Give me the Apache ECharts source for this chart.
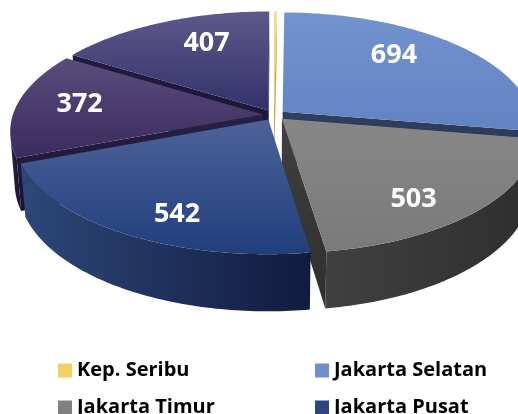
<!DOCTYPE html>
<html>
<head>
<meta charset="utf-8">
<script src="https://cdn.jsdelivr.net/npm/echarts@6/dist/echarts.min.js"></script>
<style>
  html, body { margin: 0; padding: 0; background: #fff; }
  #chart { width: 518px; height: 414px; }
</style>
</head>
<body>
<div id="chart"></div>
<script>
// District totals, drawn clockwise from 12 o'clock
const regions = ['Kep. Seribu', 'Jakarta Selatan', 'Jakarta Timur', 'Jakarta Pusat', 'Jakarta Barat', 'Jakarta Utara'];
const values = [5, 694, 503, 542, 372, 407];

// Colours: legend swatch, top face gradient, side wall gradient
const swatchColors = ['#f2d064', '#6e8fcb', '#808080', '#2e4480', '#463a6a', '#37356e'];
const topColors = [
  ['#f8de80', '#e9c44c'],
  ['#7393cf', '#6282c2'],
  ['#878787', '#7a7a7a'],
  ['#4d6299', '#213e7b'],
  ['#594d7c', '#3a2c5e'],
  ['#5e5989', '#33316b']
];
const sideColors = [
  ['#d8b440', '#b89530'],
  ['#2f3f5e', '#26334f'],
  ['#404040', '#2e2e2e'],
  ['#2d4778', '#101b3f'],
  ['#2a1f45', '#1a1230'],
  ['#221c42', '#17122f']
];

// 3D view of the disc
const CX = 274, CY = 115;          // screen position of the disc centre
const R = 250;                     // screen radius at the centre depth
const DIST = 6.28;                 // camera distance (disc radius = 1)
const ELEV = 27.2 * Math.PI / 180; // camera elevation
const THICK = 0.234;               // disc thickness
const EXPLODE = 0.045;             // outward offset of every slice
const LABEL_SQUASH = 1.3;          // label direction leans toward front/back
const LABEL_R = 0.8;               // radial position of value labels

const SN = Math.sin(ELEV), CS = Math.cos(ELEV), FOCAL = R * DIST;
const cam = [0, -DIST * CS, DIST * SN];

function depth(p) { return DIST + p[1] * CS - p[2] * SN; }
function proj(p) {
  const d = depth(p);
  return [CX + FOCAL * p[0] / d, CY - FOCAL * (p[1] * SN + p[2] * CS) / d];
}
function facing(n, p) {
  return n[0] * (cam[0] - p[0]) + n[1] * (cam[1] - p[1]) + n[2] * (cam[2] - p[2]) > 0;
}
function centroid(pts) {
  const c = [0, 0, 0];
  pts.forEach(p => { c[0] += p[0]; c[1] += p[1]; c[2] += p[2]; });
  return c.map(v => v / pts.length);
}
function grad(cols, horizontal) {
  return {
    type: 'linear', x: 0, y: 0, x2: horizontal ? 1 : 0, y2: horizontal ? 0 : 1,
    colorStops: [{ offset: 0, color: cols[0] }, { offset: 1, color: cols[1] }]
  };
}

const total = values.reduce((a, b) => a + b, 0);
const starts = [];
values.reduce((acc, v) => { starts.push(acc / total * 2 * Math.PI); return acc + v; }, 0);

function sliceRenderer(i) {
  return function (params, api) {
    const v = api.value(0);
    const a0 = starts[i];
    const a1 = a0 + v / total * 2 * Math.PI;
    const am = (a0 + a1) / 2;
    const ox = EXPLODE * Math.sin(am), oy = EXPLODE * Math.cos(am);
    const rim = (a, z) => [ox + Math.sin(a), oy + Math.cos(a), z];
    const hub = z => [ox, oy, z];
    const steps = Math.max(2, Math.ceil((a1 - a0) / (Math.PI / 180)));
    const arc = [];
    for (let k = 0; k <= steps; k++) arc.push(a0 + (a1 - a0) * k / steps);

    const children = [];
    const addSide = (pts3, cols, horizontal) => {
      children.push({
        type: 'polygon',
        z2: Math.round(1000 - depth(centroid(pts3)) * 100),
        shape: { points: pts3.map(proj) },
        style: { fill: grad(cols, horizontal), stroke: null }
      });
    };

    // radial cut faces
    const startFace = [hub(0), rim(a0, 0), rim(a0, -THICK), hub(-THICK)];
    if (facing([-Math.cos(a0), Math.sin(a0), 0], centroid(startFace))) addSide(startFace, sideColors[i], false);
    const endFace = [hub(0), rim(a1, 0), rim(a1, -THICK), hub(-THICK)];
    if (facing([Math.cos(a1), -Math.sin(a1), 0], centroid(endFace))) addSide(endFace, sideColors[i], false);

    // outer curved wall, front-facing part only
    let run = [];
    const flush = () => {
      if (run.length > 1) {
        const pts = run.map(a => rim(a, 0)).concat(run.slice().reverse().map(a => rim(a, -THICK)));
        addSide(pts, sideColors[i], true);
      }
      run = [];
    };
    arc.forEach(a => {
      if (facing([Math.sin(a), Math.cos(a), 0], rim(a, -THICK / 2))) run.push(a); else flush();
    });
    flush();

    // top face
    children.push({
      type: 'polygon',
      z2: 2000,
      shape: { points: [proj(hub(0))].concat(arc.map(a => proj(rim(a, 0)))) },
      style: { fill: grad(topColors[i], false), stroke: null }
    });

    // value label
    if (v / total > 0.02) {
      const la = Math.atan2(Math.sin(am), LABEL_SQUASH * Math.cos(am));
      const lr = LABEL_R - 0.05 * Math.cos(la);
      const lp = proj([lr * Math.sin(la), lr * Math.cos(la), 0]);
      children.push({
        type: 'text',
        z2: 3000,
        x: lp[0], y: lp[1],
        style: {
          text: String(v), fill: '#ffffff',
          fontFamily: 'Open Sans', fontWeight: 'bold', fontSize: 27,
          align: 'center', verticalAlign: 'middle'
        }
      });
    }
    return { type: 'group', children: children };
  };
}

const chart = echarts.init(document.getElementById('chart'));
chart.setOption({
  animation: false,
  backgroundColor: '#ffffff',
  legend: {
    data: regions,
    left: 58, top: 358, width: 520, padding: 0,
    icon: 'rect', itemWidth: 14, itemHeight: 14, itemGap: 12,
    textStyle: {
      fontFamily: 'Open Sans', fontWeight: 'bold', fontSize: 20, color: '#000',
      width: 226, lineHeight: 25
    }
  },
  series: regions.map((name, i) => ({
    type: 'custom',
    name: name,
    coordinateSystem: 'none',
    itemStyle: { color: swatchColors[i] },
    renderItem: sliceRenderer(i),
    data: [[values[i]]]
  }))
});
</script>
</body>
</html>
